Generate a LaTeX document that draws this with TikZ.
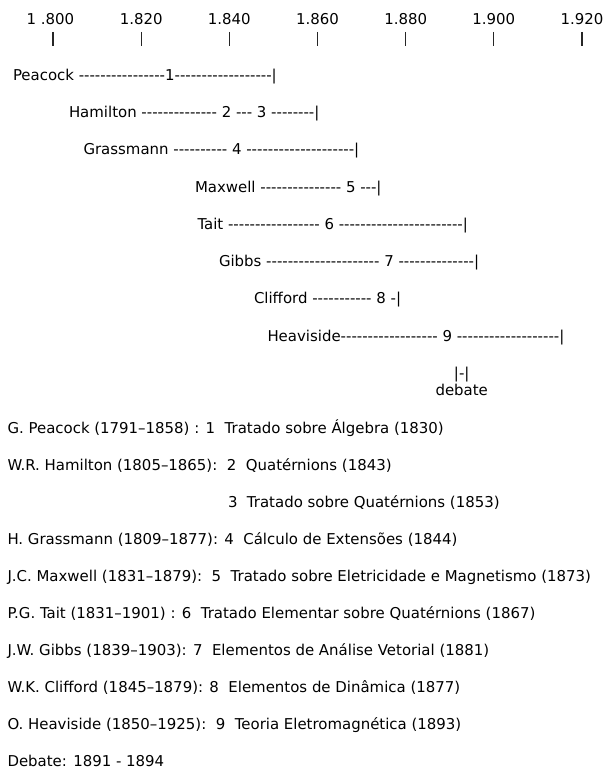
\documentclass[tikz,border=0pt]{standalone}
\usepackage{fontspec}
\newfontfamily\dv{DejaVu Sans}
\tikzset{
  txt/.style={anchor=base west, inner sep=0pt, outer sep=0pt, font=\dv\fontsize{15}{18}\selectfont},
  ctxt/.style={anchor=base, inner sep=0pt, outer sep=0pt, font=\dv\fontsize{15}{18}\selectfont},
  tick/.style={line width=1.1bp, black!85}
}
\begin{document}
\begin{tikzpicture}[x=1bp,y=-1bp]
\useasboundingbox (0,0) rectangle (604,771);
% axis labels and ticks
\foreach \lab [count=\i from 0] in {1.820,1.840,1.860,1.880,1.900,1.920}{
  \pgfmathsetmacro{\tx}{141.17+88.17*\i}
  \node[ctxt] (lab\i) at (\tx,24.5) {\lab};
  \coordinate (ta\i) at (\tx,32);
  \coordinate (tb\i) at (\tx,46);
  \draw[tick] (ta\i) -- (tb\i);
}
\node[ctxt] (lab0a) at (50.5,24.5) {1 .800};
\coordinate (t0a) at (53,32);
\coordinate (t0b) at (53,46);
\draw[tick] (t0a) -- (t0b);
% timeline rows
\node[txt] (peacock) at (13,80) {Peacock ----------------1------------------|};
\node[txt] (hamilton) at (69,117) {Hamilton -------------- 2 --- 3 --------|};
\node[txt] (grassmann) at (83.5,154) {Grassmann ---------- 4 --------------------|};
\node[txt] (maxwell) at (195,192) {Maxwell --------------- 5 ---|};
\node[txt] (tait) at (197.5,229) {Tait ----------------- 6 -----------------------|};
\node[txt] (gibbs) at (219,266) {Gibbs --------------------- 7 --------------|};
\node[txt] (clifford) at (254,303) {Clifford ----------- 8 -|};
\node[txt] (heaviside) at (267.5,341) {Heaviside------------------ 9 -------------------|};
\node[ctxt] (debbar) at (461.7,378) {|-|};
\node[ctxt] (debate) at (461.7,395) {debate};
% legend
\node[txt] (l1) at (7.5,433.5) {G. Peacock (1791–1858) : 1\ \ Tratado sobre Álgebra (1830)};
\node[txt] (l2) at (7.5,470.5) {W.R. Hamilton (1805–1865):\ \ 2\ \ Quatérnions (1843)};
\node[txt] (l3) at (228,507.5) {3\ \ Tratado sobre Quatérnions (1853)};
\node[txt] (l4) at (7.5,544.5) {H. Grassmann (1809–1877): 4\ \ Cálculo de Extensões (1844)};
\node[txt] (l5) at (7.5,581.5) {J.C. Maxwell (1831–1879):\ \ 5\ \ Tratado sobre Eletricidade e Magnetismo (1873)};
\node[txt] (l6) at (7.5,618.5) {P.G. Tait (1831–1901) : 6\ \ Tratado Elementar sobre Quatérnions (1867)};
\node[txt] (l7) at (7.5,655.5) {J.W. Gibbs (1839–1903): 7\ \ Elementos de Análise Vetorial (1881)};
\node[txt] (l8) at (7.5,692.5) {W.K. Clifford (1845–1879): 8\ \ Elementos de Dinâmica (1877)};
\node[txt] (l9) at (7.5,729.5) {O. Heaviside (1850–1925):\ \ 9\ \ Teoria Eletromagnética (1893)};
\node[txt] (l10) at (7.5,766.5) {Debate: 1891 - 1894};
\end{tikzpicture}
\end{document}
